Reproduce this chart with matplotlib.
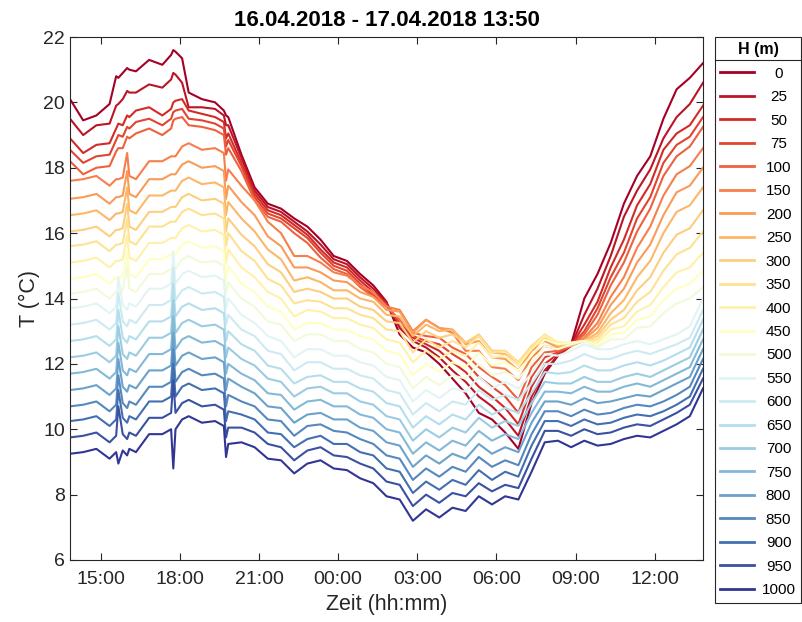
import matplotlib
matplotlib.use("Agg")
import matplotlib.pyplot as plt
import matplotlib.dates as mdates
from matplotlib.transforms import Affine2D
from matplotlib.lines import Line2D
import numpy as np

plt.rcParams['font.family'] = ['Liberation Sans', 'DejaVu Sans']

# Zeitpunkte in Minuten ab 16.04.2018 00:00
zeit_min = [830, 860, 890, 920, 935, 940, 950, 960, 965, 980, 1010, 1040, 1060, 1065, 1070, 1085, 1100, 1130, 1160, 1180, 1185, 1190,
            1220, 1250, 1280, 1310, 1340, 1370, 1400, 1430, 1460, 1490, 1520, 1550,
            1580, 1610, 1640, 1670, 1700, 1730, 1760, 1790, 1820, 1850, 1880, 1910, 1940, 1970,
            2000, 2030, 2060, 2090, 2120, 2150, 2180, 2210, 2240, 2270]

hoehen = [0, 25, 50, 75, 100, 150, 200, 250, 300, 350, 400, 450, 500,
          550, 600, 650, 700, 750, 800, 850, 900, 950, 1000]

# Temperatur (°C) je Hoehe
T0 = [20.1, 19.45, 19.6, 19.95, 20.8, 20.75, 20.9, 21.05, 21.0, 20.95, 21.3, 21.15, 21.45, 21.6, 21.55, 21.35, 20.3, 20.1, 20.0, 19.75, 19.6, 19.55,
      18.4, 17.4, 16.9, 16.75, 16.45, 16.2, 15.8, 15.3, 15.15, 14.75, 14.4, 13.9,
      12.9, 12.5, 12.35, 12.0, 11.55, 11.1, 10.5, 10.3, 9.9, 9.4, 10.8, 11.7, 12.25, 12.6,
      14.0, 14.75, 15.7, 16.9, 17.75, 18.35, 19.5, 20.4, 20.75, 21.2]
T25 = [19.5, 19.0, 19.3, 19.35, 19.9, 19.95, 20.1, 20.35, 20.3, 20.3, 20.55, 20.45, 20.7, 20.9, 20.85, 20.6, 19.85, 19.85, 19.8, 19.6, 19.3, 19.3,
       18.3, 17.3, 16.8, 16.65, 16.35, 16.05, 15.65, 15.2, 15.05, 14.65, 14.3, 13.85,
       13.1, 12.7, 12.5, 12.2, 11.8, 11.45, 11.0, 10.7, 10.3, 9.8, 11.0, 11.8, 12.25, 12.55,
       13.5, 14.3, 15.3, 16.5, 17.3, 17.95, 18.9, 19.55, 19.95, 20.6]
T50 = [18.9, 18.45, 18.7, 18.75, 19.2, 19.35, 19.3, 19.6, 19.55, 19.75, 19.85, 19.6, 19.8, 20.0, 20.05, 20.1, 19.75, 19.65, 19.55, 19.4, 18.9, 19.05,
       18.15, 17.2, 16.7, 16.55, 16.25, 15.95, 15.5, 15.1, 14.95, 14.55, 14.2, 13.85,
       13.2, 12.8, 12.6, 12.4, 12.05, 11.75, 11.3, 11.0, 10.65, 10.15, 11.3, 12.0, 12.3, 12.55,
       13.2, 13.9, 14.95, 15.8, 16.85, 17.5, 18.55, 19.05, 19.3, 19.9]
T75 = [18.55, 18.15, 18.35, 18.4, 18.85, 19.0, 18.95, 19.25, 19.2, 19.4, 19.5, 19.3, 19.5, 19.7, 19.75, 19.8, 19.5, 19.45, 19.35, 19.2, 18.65, 18.85,
       18.05, 17.1, 16.6, 16.45, 16.15, 15.85, 15.4, 15.0, 14.85, 14.45, 14.1, 13.8,
       13.25, 12.85, 12.7, 12.6, 12.3, 12.05, 11.6, 11.3, 11.0, 10.5, 11.6, 12.2, 12.35, 12.55,
       13.0, 13.7, 14.65, 15.4, 16.45, 17.1, 18.15, 18.7, 18.95, 19.55]
T100 = [18.2, 17.8, 18.0, 18.05, 18.5, 18.6, 18.6, 18.95, 18.9, 19.05, 19.2, 19.0, 19.2, 19.45, 19.5, 19.55, 19.3, 19.25, 19.15, 19.0, 18.4, 18.6,
        17.9, 17.0, 16.5, 16.35, 16.0, 15.7, 15.25, 14.9, 14.75, 14.35, 14.05, 13.75,
        13.35, 12.95, 12.85, 12.8, 12.5, 12.3, 11.9, 11.6, 11.35, 10.9, 11.9, 12.35, 12.4, 12.55,
        12.9, 13.5, 14.4, 15.1, 16.05, 16.75, 17.75, 18.35, 18.65, 19.25]
T150 = [17.6, 17.65, 17.75, 17.45, 17.65, 17.65, 17.7, 18.45, 17.75, 17.65, 18.2, 18.2, 18.35, 18.35, 18.35, 18.65, 18.75, 18.55, 18.6, 18.45, 17.6, 17.95,
        17.45, 17.0, 16.35, 16.0, 15.3, 15.3, 15.1, 14.8, 14.7, 14.4, 14.2, 13.75,
        13.65, 13.0, 13.35, 13.1, 12.95, 12.4, 12.4, 11.9, 11.85, 11.5, 12.2, 12.55, 12.45, 12.55,
        12.8, 13.25, 14.05, 14.65, 15.55, 16.2, 17.15, 17.8, 18.05, 18.6]
T200 = [17.05, 17.1, 17.2, 16.9, 17.1, 17.1, 17.15, 17.9, 17.2, 17.1, 17.65, 17.65, 17.8, 17.8, 17.8, 18.1, 18.2, 18.0, 18.05, 17.9, 17.05, 17.45,
        16.95, 16.55, 15.9, 15.6, 14.95, 14.95, 14.8, 14.55, 14.5, 14.2, 14.05, 13.65,
        13.6, 12.95, 13.35, 13.1, 13.05, 12.6, 12.7, 12.2, 12.15, 11.8, 12.4, 12.7, 12.5, 12.55,
        12.75, 13.1, 13.8, 14.3, 15.1, 15.65, 16.55, 17.25, 17.45, 18.0]
T250 = [16.55, 16.6, 16.7, 16.4, 16.6, 16.6, 16.65, 17.4, 16.7, 16.6, 17.15, 17.15, 17.3, 17.3, 17.3, 17.6, 17.7, 17.5, 17.55, 17.4, 16.55, 16.95,
        16.45, 16.05, 15.5, 15.2, 14.55, 14.65, 14.5, 14.25, 14.25, 14.0, 13.9, 13.5,
        13.45, 12.85, 13.2, 13.0, 13.05, 12.65, 12.85, 12.35, 12.3, 11.95, 12.5, 12.8, 12.55, 12.55,
        12.7, 12.95, 13.55, 13.95, 14.65, 15.15, 16.0, 16.65, 16.85, 17.4]
T300 = [16.05, 16.1, 16.2, 15.9, 16.1, 16.1, 16.15, 16.9, 16.2, 16.1, 16.65, 16.65, 16.8, 16.8, 16.8, 17.1, 17.2, 17.0, 17.05, 16.9, 16.05, 16.45,
        15.95, 15.6, 15.05, 14.8, 14.2, 14.3, 14.2, 14.0, 14.0, 13.75, 13.65, 13.3,
        13.25, 12.65, 13.0, 12.8, 12.9, 12.65, 12.9, 12.4, 12.4, 12.05, 12.55, 12.85, 12.6, 12.6,
        12.7, 12.85, 13.35, 13.65, 14.25, 14.65, 15.4, 15.95, 16.15, 16.7]
T350 = [15.6, 15.65, 15.75, 15.45, 15.65, 15.65, 15.7, 16.45, 15.75, 15.65, 16.2, 16.2, 16.35, 16.35, 16.35, 16.65, 16.75, 16.55, 16.6, 16.45, 15.6, 16.0,
        15.45, 15.15, 14.6, 14.4, 13.85, 13.95, 13.9, 13.7, 13.7, 13.5, 13.4, 13.05,
        13.0, 12.35, 12.75, 12.5, 12.7, 12.5, 12.85, 12.35, 12.4, 12.05, 12.55, 12.9, 12.65, 12.6,
        12.7, 12.75, 13.2, 13.4, 13.9, 14.2, 14.85, 15.35, 15.55, 16.05]
T400 = [15.1, 15.15, 15.25, 14.95, 15.15, 15.15, 15.2, 15.95, 15.25, 15.15, 15.7, 15.7, 15.85, 15.85, 15.85, 16.15, 16.25, 16.05, 16.1, 15.95, 15.1, 15.5,
        14.95, 14.65, 14.2, 14.0, 13.45, 13.65, 13.6, 13.4, 13.4, 13.2, 13.1, 12.75,
        12.65, 12.05, 12.4, 12.15, 12.4, 12.25, 12.65, 12.2, 12.25, 11.95, 12.45, 12.85, 12.65, 12.65,
        12.7, 12.65, 13.05, 13.15, 13.6, 13.8, 14.35, 14.8, 14.95, 15.4]
T450 = [14.6, 14.65, 14.75, 14.45, 14.65, 14.65, 14.7, 15.45, 14.75, 14.65, 15.2, 15.2, 15.35, 15.35, 15.35, 15.65, 15.75, 15.55, 15.6, 15.45, 14.6, 15.0,
        14.45, 14.2, 13.75, 13.6, 13.05, 13.25, 13.25, 13.05, 13.05, 12.85, 12.75, 12.4,
        12.3, 11.65, 12.0, 11.75, 12.05, 11.9, 12.35, 11.95, 12.05, 11.8, 12.25, 12.75, 12.6, 12.65,
        12.7, 12.55, 12.9, 12.95, 13.35, 13.45, 13.95, 14.3, 14.45, 14.85]
T500 = [14.15, 14.2, 14.3, 14.0, 14.2, 14.2, 14.25, 15.0, 14.3, 14.2, 14.75, 14.75, 14.9, 14.9, 14.9, 15.2, 15.3, 15.1, 15.15, 15.0, 14.15, 14.5,
        14.0, 13.75, 13.3, 13.2, 12.7, 12.9, 12.9, 12.7, 12.7, 12.45, 12.35, 12.0,
        11.9, 11.25, 11.6, 11.35, 11.65, 11.55, 12.0, 11.65, 11.75, 11.55, 12.0, 12.55, 12.45, 12.6,
        12.7, 12.5, 12.75, 12.75, 13.1, 13.15, 13.55, 13.85, 14.0, 14.35]
T550 = [13.7, 13.75, 13.85, 13.55, 13.75, 14.65, 13.8, 13.65, 13.85, 13.75, 14.3, 14.3, 14.45, 15.45, 14.45, 14.75, 14.85, 14.65, 14.7, 14.55, 13.7, 14.0,
        13.5, 13.25, 12.85, 12.7, 12.2, 12.45, 12.45, 12.25, 12.25, 12.05, 11.95, 11.6,
        11.5, 10.85, 11.2, 10.95, 11.25, 11.15, 11.6, 11.25, 11.45, 11.25, 11.7, 12.3, 12.25, 12.4,
        12.6, 12.45, 12.45, 12.6, 12.7, 12.6, 12.75, 12.9, 13.15, 14.0]
T600 = [13.2, 13.25, 13.35, 13.05, 13.25, 14.15, 13.3, 13.15, 13.35, 13.25, 13.8, 13.8, 13.95, 14.95, 13.95, 14.25, 14.35, 14.15, 14.2, 14.05, 13.2, 13.5,
        13.05, 12.85, 12.4, 12.3, 11.8, 12.05, 12.05, 11.85, 11.85, 11.65, 11.55, 11.2,
        11.1, 10.45, 10.8, 10.55, 10.85, 10.75, 11.2, 10.9, 11.05, 10.9, 11.4, 12.0, 12.0, 12.1,
        12.3, 12.15, 12.15, 12.3, 12.4, 12.3, 12.45, 12.6, 12.8, 13.65]
T650 = [12.7, 12.75, 12.85, 12.55, 12.75, 13.65, 12.8, 12.65, 12.85, 12.75, 13.3, 13.3, 13.45, 14.45, 13.45, 13.75, 13.85, 13.65, 13.7, 13.55, 12.7, 13.0,
        12.6, 12.4, 11.95, 11.85, 11.4, 11.6, 11.65, 11.45, 11.45, 11.25, 11.15, 10.8,
        10.7, 10.05, 10.4, 10.15, 10.45, 10.3, 10.75, 10.45, 10.65, 10.5, 11.1, 11.75, 11.7, 11.75,
        11.95, 11.8, 11.8, 11.95, 12.05, 11.95, 12.1, 12.3, 12.5, 13.35]
T700 = [12.2, 12.25, 12.35, 12.05, 12.25, 13.15, 12.3, 12.15, 12.35, 12.25, 12.8, 12.8, 12.95, 13.95, 12.95, 13.25, 13.35, 13.15, 13.2, 13.05, 12.2, 12.5,
        12.15, 11.95, 11.55, 11.45, 11.0, 11.25, 11.3, 11.1, 11.1, 10.85, 10.75, 10.4,
        10.3, 9.65, 10.0, 9.75, 10.05, 9.9, 10.35, 10.05, 10.25, 10.1, 10.8, 11.45, 11.4, 11.4,
        11.6, 11.45, 11.45, 11.6, 11.7, 11.6, 11.8, 12.0, 12.2, 13.05]
T750 = [11.7, 11.75, 11.85, 11.55, 11.75, 12.65, 11.8, 11.65, 11.85, 11.75, 12.3, 12.3, 12.45, 13.45, 12.45, 12.75, 12.85, 12.65, 12.7, 12.55, 11.7, 12.0,
        11.7, 11.5, 11.1, 11.05, 10.6, 10.85, 10.9, 10.7, 10.7, 10.45, 10.35, 10.0,
        9.9, 9.25, 9.6, 9.35, 9.65, 9.5, 9.95, 9.65, 9.85, 9.7, 10.5, 11.15, 11.15, 11.1,
        11.3, 11.15, 11.15, 11.3, 11.4, 11.3, 11.5, 11.7, 11.9, 12.75]
T800 = [11.2, 11.25, 11.35, 11.05, 11.25, 12.15, 11.3, 11.15, 11.35, 11.25, 11.8, 11.8, 11.95, 12.95, 11.95, 12.25, 12.35, 12.15, 12.2, 12.05, 11.2, 11.55,
        11.3, 11.1, 10.7, 10.65, 10.2, 10.45, 10.5, 10.3, 10.3, 10.05, 9.95, 9.6,
        9.5, 8.85, 9.2, 8.95, 9.25, 9.1, 9.55, 9.25, 9.45, 9.3, 10.2, 10.85, 10.85, 10.75,
        10.95, 10.8, 10.85, 10.95, 11.05, 11.0, 11.2, 11.4, 11.6, 12.45]
T850 = [10.7, 10.75, 10.85, 10.55, 10.75, 11.65, 10.8, 10.65, 10.85, 10.75, 11.3, 11.3, 11.45, 12.45, 11.45, 11.75, 11.85, 11.65, 11.7, 11.55, 10.7, 11.05,
        10.85, 10.7, 10.3, 10.25, 9.8, 10.1, 10.15, 9.95, 9.9, 9.7, 9.55, 9.2,
        9.1, 8.45, 8.8, 8.55, 8.85, 8.7, 9.15, 8.85, 9.05, 8.9, 9.85, 10.55, 10.55, 10.4,
        10.6, 10.45, 10.5, 10.65, 10.75, 10.7, 10.85, 11.05, 11.3, 12.15]
T900 = [10.25, 10.3, 10.4, 10.1, 10.3, 11.2, 10.35, 10.2, 10.4, 10.3, 10.85, 10.85, 11.0, 12.0, 11.0, 11.3, 11.4, 11.2, 11.25, 11.1, 10.25, 10.55,
        10.45, 10.3, 9.9, 9.85, 9.45, 9.7, 9.8, 9.55, 9.55, 9.3, 9.2, 8.8,
        8.7, 8.05, 8.4, 8.15, 8.45, 8.3, 8.75, 8.45, 8.7, 8.55, 9.5, 10.25, 10.25, 10.1,
        10.3, 10.15, 10.2, 10.35, 10.45, 10.4, 10.55, 10.75, 11.0, 11.85]
T950 = [9.75, 9.8, 9.9, 9.6, 9.8, 10.7, 9.85, 9.7, 9.9, 9.8, 10.35, 10.35, 10.5, 11.5, 10.5, 10.8, 10.9, 10.7, 10.75, 10.6, 9.75, 10.05,
        10.05, 9.9, 9.55, 9.45, 9.05, 9.35, 9.45, 9.2, 9.15, 8.95, 8.8, 8.4,
        8.3, 7.65, 8.0, 7.75, 8.05, 7.95, 8.35, 8.1, 8.3, 8.2, 9.1, 9.95, 9.95, 9.8,
        10.0, 9.85, 9.9, 10.05, 10.15, 10.1, 10.3, 10.5, 10.75, 11.55]
T1000 = [9.25, 9.3, 9.4, 9.1, 9.3, 8.95, 9.35, 9.2, 9.4, 9.3, 9.85, 9.85, 10.0, 8.8, 10.0, 10.3, 10.4, 10.2, 10.25, 10.1, 9.15, 9.55,
         9.6, 9.45, 9.1, 9.05, 8.65, 8.95, 9.05, 8.8, 8.75, 8.5, 8.35, 7.95,
         7.85, 7.2, 7.55, 7.3, 7.6, 7.5, 7.95, 7.7, 7.95, 7.85, 8.7, 9.6, 9.65, 9.45,
         9.65, 9.5, 9.55, 9.7, 9.8, 9.75, 9.95, 10.15, 10.4, 11.25]

messreihen = [T0, T25, T50, T75, T100, T150, T200, T250, T300, T350, T400, T450, T500,
              T550, T600, T650, T700, T750, T800, T850, T900, T950, T1000]

grau = '#262626'
start = np.datetime64('2018-04-16T00:00')
zeit = start + np.array(zeit_min).astype('timedelta64[m]')
farben = plt.cm.RdYlBu(np.linspace(0, 1, len(hoehen)))

fig = plt.figure(figsize=(8.02, 6.22), dpi=100)
ax = fig.add_axes([70 / 802, 62 / 622, 633 / 802, 523 / 622])

for h, werte, c in zip(hoehen, messreihen, farben):
    ax.plot(zeit, werte, color=c, lw=1.5, label=str(h))

ax.set_xlim(np.datetime64('2018-04-16T13:50'), np.datetime64('2018-04-17T13:50'))
ax.set_ylim(6, 22)
ax.set_yticks(range(6, 23, 2))
ax.xaxis.set_major_locator(mdates.HourLocator(byhour=range(0, 24, 3)))
ax.xaxis.set_major_formatter(mdates.DateFormatter('%H:%M'))
ax.tick_params(direction='in', top=True, right=True, length=5, width=0.8,
               labelsize=14, colors=grau)
ax.tick_params(axis='x', pad=8)
for s in ax.spines.values():
    s.set_color(grau)
    s.set_linewidth(0.8)

ax.set_xlabel('Zeit (hh:mm)', fontsize=15.5, color=grau, labelpad=4)
ax.set_ylabel('T (°C)', fontsize=15.5, color=grau, labelpad=2)
ax.set_title('16.04.2018 - 17.04.2018 13:50', fontsize=16, fontweight='bold', color='k', pad=8)

leg = ax.legend(title='H (m)', loc='upper left', bbox_to_anchor=(715 / 802, 1 - 37 / 622),
                bbox_transform=fig.transFigure, borderaxespad=0, fontsize=11,
                title_fontproperties={'weight': 'bold', 'size': 11.5},
                frameon=True, fancybox=False, edgecolor=grau, framealpha=1,
                handlelength=2.2, handletextpad=0.5, labelspacing=0.62, borderpad=0.35)
leg.get_frame().set_linewidth(0.8)
for l in leg.get_lines():
    l.set_linewidth(2.0)

# Beschriftungen in der Legende zentrieren, Trennlinie unter dem Titel
fig.canvas.draw()
r = fig.canvas.get_renderer()
texte = leg.get_texts()
breiten = [t.get_window_extent(r).width for t in texte]
bmax = max(breiten)
for t, b in zip(texte, breiten):
    t.set_transform(t.get_transform() + Affine2D().translate((bmax - b) / 2, 0))

lb = leg.get_window_extent(r)
tb = leg.get_title().get_window_extent(r)
inv = fig.transFigure.inverted()
(x0, y0), (x1, _) = inv.transform([(lb.x0, tb.y0 - 3), (lb.x1, tb.y0 - 3)])
fig.add_artist(Line2D([x0, x1], [y0, y0], color=grau, lw=0.8))

fig.savefig('out.png', dpi=100)
